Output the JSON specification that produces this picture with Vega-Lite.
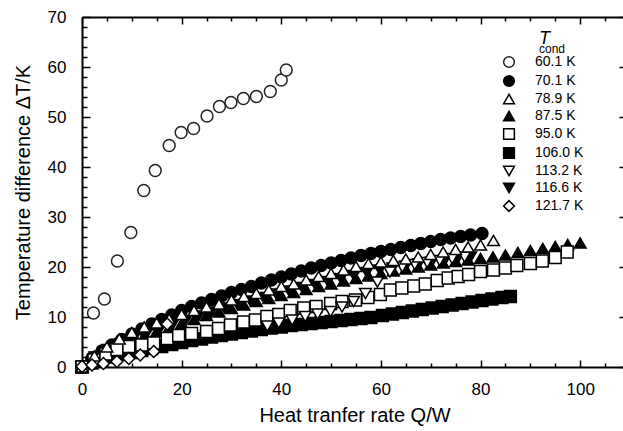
{
  "$schema": "https://vega.github.io/schema/vega-lite/v6.json",
  "width": 545,
  "height": 350,
  "autosize": {"type": "none"},
  "padding": {"left": 82, "top": 17, "right": 0, "bottom": 64},
  "background": "white",
  "config": {"view": {"stroke": null}, "font": "Liberation Sans"},
  "title": {"text": "T", "subtitle": "\u00a0\u00a0cond", "anchor": "start", "frame": "group", "orient": "top", "dx": 457, "dy": 51, "fontSize": 18, "fontStyle": "italic", "fontWeight": "normal", "font": "Liberation Sans", "color": "black", "subtitleFont": "Liberation Sans", "subtitleFontSize": 12, "subtitleColor": "black", "subtitlePadding": -4},
  "data": {"values": [
    {"s":"70.1 K","Q":0,"T":0},{"s":"70.1 K","Q":2,"T":1.8},{"s":"70.1 K","Q":4,"T":3.2},{"s":"70.1 K","Q":6,"T":4.4},{"s":"70.1 K","Q":8,"T":5.5},{"s":"70.1 K","Q":10,"T":6.6},{"s":"70.1 K","Q":12,"T":7.6},{"s":"70.1 K","Q":14,"T":8.6},{"s":"70.1 K","Q":16,"T":9.5},{"s":"70.1 K","Q":18,"T":10.4},{"s":"70.1 K","Q":20,"T":11.3},{"s":"70.1 K","Q":22,"T":12.1},{"s":"70.1 K","Q":24,"T":12.8},{"s":"70.1 K","Q":26,"T":13.5},{"s":"70.1 K","Q":28,"T":14.2},{"s":"70.1 K","Q":30,"T":14.9},{"s":"70.1 K","Q":32,"T":15.5},{"s":"70.1 K","Q":34,"T":16.1},{"s":"70.1 K","Q":36,"T":16.8},{"s":"70.1 K","Q":38,"T":17.4},{"s":"70.1 K","Q":40,"T":18.0},{"s":"70.1 K","Q":42,"T":18.6},{"s":"70.1 K","Q":44,"T":19.2},{"s":"70.1 K","Q":46,"T":19.8},{"s":"70.1 K","Q":48,"T":20.3},{"s":"70.1 K","Q":50,"T":20.8},{"s":"70.1 K","Q":52,"T":21.3},{"s":"70.1 K","Q":54,"T":21.8},{"s":"70.1 K","Q":56,"T":22.3},{"s":"70.1 K","Q":58,"T":22.7},{"s":"70.1 K","Q":60,"T":23.1},{"s":"70.1 K","Q":62,"T":23.5},{"s":"70.1 K","Q":64,"T":23.9},{"s":"70.1 K","Q":66,"T":24.3},{"s":"70.1 K","Q":68,"T":24.7},{"s":"70.1 K","Q":70,"T":25.1},{"s":"70.1 K","Q":72,"T":25.5},{"s":"70.1 K","Q":74,"T":25.8},{"s":"70.1 K","Q":76,"T":26.1},{"s":"70.1 K","Q":78,"T":26.4},{"s":"70.1 K","Q":80.3,"T":26.7},
    {"s":"87.5 K","Q":0,"T":0},{"s":"87.5 K","Q":2.5,"T":1.8},{"s":"87.5 K","Q":5,"T":3.2},{"s":"87.5 K","Q":7.5,"T":4.3},{"s":"87.5 K","Q":10,"T":5.3},{"s":"87.5 K","Q":12.5,"T":6.2},{"s":"87.5 K","Q":15,"T":7.1},{"s":"87.5 K","Q":17.5,"T":7.9},{"s":"87.5 K","Q":20,"T":8.7},{"s":"87.5 K","Q":22.5,"T":9.5},{"s":"87.5 K","Q":25,"T":10.3},{"s":"87.5 K","Q":27.5,"T":11.0},{"s":"87.5 K","Q":30,"T":11.7},{"s":"87.5 K","Q":32.5,"T":12.4},{"s":"87.5 K","Q":35,"T":13.1},{"s":"87.5 K","Q":37.5,"T":13.7},{"s":"87.5 K","Q":40,"T":14.3},{"s":"87.5 K","Q":42.5,"T":14.9},{"s":"87.5 K","Q":45,"T":15.5},{"s":"87.5 K","Q":47.5,"T":16.1},{"s":"87.5 K","Q":50,"T":16.6},{"s":"87.5 K","Q":52.5,"T":17.2},{"s":"87.5 K","Q":55,"T":17.7},{"s":"87.5 K","Q":57.5,"T":18.2},{"s":"87.5 K","Q":60,"T":18.7},{"s":"87.5 K","Q":62.5,"T":19.2},{"s":"87.5 K","Q":65,"T":19.6},{"s":"87.5 K","Q":67.5,"T":20.0},{"s":"87.5 K","Q":70,"T":20.4},{"s":"87.5 K","Q":72.5,"T":20.8},{"s":"87.5 K","Q":75,"T":21.1},{"s":"87.5 K","Q":77.5,"T":21.4},{"s":"87.5 K","Q":80,"T":21.7},{"s":"87.5 K","Q":82.5,"T":22.0},{"s":"87.5 K","Q":85,"T":22.4},{"s":"87.5 K","Q":87.5,"T":22.9},{"s":"87.5 K","Q":90,"T":23.3},{"s":"87.5 K","Q":92.5,"T":23.7},{"s":"87.5 K","Q":95,"T":24.1},{"s":"87.5 K","Q":97.5,"T":24.5},{"s":"87.5 K","Q":100,"T":24.8},
    {"s":"116.6 K","Q":0,"T":0},{"s":"116.6 K","Q":2.6,"T":2.0},{"s":"116.6 K","Q":5.2,"T":3.5},{"s":"116.6 K","Q":7.8,"T":4.7},{"s":"116.6 K","Q":10.4,"T":5.7},{"s":"116.6 K","Q":13,"T":6.7},{"s":"116.6 K","Q":15.6,"T":7.6},{"s":"116.6 K","Q":18.2,"T":8.5},{"s":"116.6 K","Q":20.8,"T":9.3},{"s":"116.6 K","Q":23.4,"T":10.2},{"s":"116.6 K","Q":26,"T":11.0},{"s":"116.6 K","Q":28.6,"T":11.8},{"s":"116.6 K","Q":31.2,"T":12.5},{"s":"116.6 K","Q":33.8,"T":13.2},{"s":"116.6 K","Q":36.4,"T":13.9},{"s":"116.6 K","Q":39,"T":14.6},{"s":"116.6 K","Q":41.6,"T":15.2},{"s":"116.6 K","Q":44.2,"T":15.9},{"s":"116.6 K","Q":46.8,"T":16.5},{"s":"116.6 K","Q":49.4,"T":17.1},{"s":"116.6 K","Q":52,"T":17.7},{"s":"116.6 K","Q":54.6,"T":18.3},{"s":"116.6 K","Q":57.2,"T":18.9},{"s":"116.6 K","Q":59.8,"T":19.4},{"s":"116.6 K","Q":62.4,"T":19.8},{"s":"116.6 K","Q":65,"T":20.2},{"s":"116.6 K","Q":67.6,"T":20.6},{"s":"116.6 K","Q":70.2,"T":21.0},{"s":"116.6 K","Q":72.8,"T":21.3},{"s":"116.6 K","Q":75.4,"T":21.7},{"s":"116.6 K","Q":78,"T":22.0},
    {"s":"113.2 K","Q":0,"T":0},{"s":"113.2 K","Q":2.5,"T":1.0},{"s":"113.2 K","Q":5,"T":1.9},{"s":"113.2 K","Q":7.5,"T":2.7},{"s":"113.2 K","Q":10,"T":3.3},{"s":"113.2 K","Q":12.5,"T":3.9},{"s":"113.2 K","Q":15,"T":4.4},{"s":"113.2 K","Q":17.5,"T":4.9},{"s":"113.2 K","Q":20,"T":5.3},{"s":"113.2 K","Q":22.5,"T":5.8},{"s":"113.2 K","Q":25,"T":6.2},{"s":"113.2 K","Q":27.5,"T":6.6},{"s":"113.2 K","Q":30,"T":7.0},{"s":"113.2 K","Q":32.5,"T":7.4},{"s":"113.2 K","Q":35,"T":7.8},
    {"s":"106.0 K","Q":0,"T":0},{"s":"106.0 K","Q":2,"T":0.8},{"s":"106.0 K","Q":4,"T":1.4},{"s":"106.0 K","Q":6,"T":2.0},{"s":"106.0 K","Q":8,"T":2.5},{"s":"106.0 K","Q":10,"T":2.9},{"s":"106.0 K","Q":12,"T":3.3},{"s":"106.0 K","Q":14,"T":3.7},{"s":"106.0 K","Q":16,"T":4.1},{"s":"106.0 K","Q":18,"T":4.5},{"s":"106.0 K","Q":20,"T":4.9},{"s":"106.0 K","Q":22,"T":5.3},{"s":"106.0 K","Q":24,"T":5.6},{"s":"106.0 K","Q":26,"T":6.0},{"s":"106.0 K","Q":28,"T":6.3},{"s":"106.0 K","Q":30,"T":6.6},{"s":"106.0 K","Q":32,"T":6.9},{"s":"106.0 K","Q":34,"T":7.2},{"s":"106.0 K","Q":36,"T":7.5},{"s":"106.0 K","Q":38,"T":7.8},{"s":"106.0 K","Q":40,"T":8.0},{"s":"106.0 K","Q":42,"T":8.3},{"s":"106.0 K","Q":44,"T":8.5},{"s":"106.0 K","Q":46,"T":8.7},{"s":"106.0 K","Q":48,"T":8.9},{"s":"106.0 K","Q":50,"T":9.1},{"s":"106.0 K","Q":52,"T":9.3},{"s":"106.0 K","Q":54,"T":9.5},{"s":"106.0 K","Q":56,"T":9.7},{"s":"106.0 K","Q":58,"T":9.9},{"s":"106.0 K","Q":60.3,"T":10.3},{"s":"106.0 K","Q":62.3,"T":10.6},{"s":"106.0 K","Q":64.3,"T":10.9},{"s":"106.0 K","Q":66.3,"T":11.2},{"s":"106.0 K","Q":68.3,"T":11.5},{"s":"106.0 K","Q":70.3,"T":11.8},{"s":"106.0 K","Q":72.3,"T":12.1},{"s":"106.0 K","Q":74.3,"T":12.4},{"s":"106.0 K","Q":76.3,"T":12.7},{"s":"106.0 K","Q":78.3,"T":13.0},{"s":"106.0 K","Q":80.3,"T":13.3},{"s":"106.0 K","Q":82.3,"T":13.6},{"s":"106.0 K","Q":84.3,"T":13.9},{"s":"106.0 K","Q":86,"T":14.1},
    {"s":"95.0 K","Q":0,"T":0},{"s":"95.0 K","Q":2.4,"T":1.4},{"s":"95.0 K","Q":4.8,"T":2.6},{"s":"95.0 K","Q":7,"T":3.5},{"s":"95.0 K","Q":9.4,"T":4.1},{"s":"95.0 K","Q":12,"T":4.4},{"s":"95.0 K","Q":14.4,"T":4.8},{"s":"95.0 K","Q":17.1,"T":5.7},{"s":"95.0 K","Q":19.4,"T":6.3},{"s":"95.0 K","Q":22,"T":6.7},{"s":"95.0 K","Q":25,"T":7.1},{"s":"95.0 K","Q":27.4,"T":7.7},{"s":"95.0 K","Q":29.8,"T":8.4},{"s":"95.0 K","Q":32.4,"T":9.0},{"s":"95.0 K","Q":34.8,"T":9.4},{"s":"95.0 K","Q":37.1,"T":10.1},{"s":"95.0 K","Q":39.5,"T":10.5},{"s":"95.0 K","Q":41.8,"T":11.3},{"s":"95.0 K","Q":44.5,"T":11.8},{"s":"95.0 K","Q":47,"T":12.1},{"s":"95.0 K","Q":49.9,"T":12.7},{"s":"95.0 K","Q":52.2,"T":13.1},{"s":"95.0 K","Q":54.9,"T":13.4},{"s":"95.0 K","Q":57.4,"T":13.9},{"s":"95.0 K","Q":59.9,"T":14.5},{"s":"95.0 K","Q":61.9,"T":15.4},{"s":"95.0 K","Q":64.2,"T":15.8},{"s":"95.0 K","Q":66.6,"T":16.2},{"s":"95.0 K","Q":68.9,"T":16.6},{"s":"95.0 K","Q":71.3,"T":17.3},{"s":"95.0 K","Q":73.5,"T":17.8},{"s":"95.0 K","Q":75.5,"T":18.1},{"s":"95.0 K","Q":77.6,"T":18.5},{"s":"95.0 K","Q":80,"T":19.1},{"s":"95.0 K","Q":82.6,"T":19.4},{"s":"95.0 K","Q":85,"T":19.8},{"s":"95.0 K","Q":87.3,"T":20.3},{"s":"95.0 K","Q":90,"T":20.7},{"s":"95.0 K","Q":92.4,"T":21.2},{"s":"95.0 K","Q":95,"T":21.9},{"s":"95.0 K","Q":97.4,"T":23.0},
    {"s":"113.2 K","Q":37.2,"T":8.2},{"s":"113.2 K","Q":39.5,"T":8.8},{"s":"113.2 K","Q":42.2,"T":9.4},{"s":"113.2 K","Q":44.8,"T":10.1},{"s":"113.2 K","Q":47.3,"T":10.6},{"s":"113.2 K","Q":49.9,"T":11.1},{"s":"113.2 K","Q":52.2,"T":12.0},{"s":"113.2 K","Q":54.5,"T":13.1},{"s":"113.2 K","Q":56.9,"T":14.7},{"s":"113.2 K","Q":59.3,"T":17.0},{"s":"113.2 K","Q":61.8,"T":19.0},{"s":"113.2 K","Q":64.3,"T":20.0},{"s":"113.2 K","Q":66.8,"T":20.5},{"s":"113.2 K","Q":69.3,"T":20.9},{"s":"113.2 K","Q":71.8,"T":21.3},{"s":"113.2 K","Q":74.3,"T":21.7},{"s":"113.2 K","Q":76.8,"T":22.0},
    {"s":"78.9 K","Q":0,"T":0},{"s":"78.9 K","Q":2.5,"T":2.2},{"s":"78.9 K","Q":5,"T":4.0},{"s":"78.9 K","Q":7.5,"T":5.6},{"s":"78.9 K","Q":10,"T":6.9},{"s":"78.9 K","Q":12.5,"T":8.0},{"s":"78.9 K","Q":15,"T":8.8},{"s":"78.9 K","Q":17.5,"T":9.6},{"s":"78.9 K","Q":20,"T":10.5},{"s":"78.9 K","Q":22.5,"T":11.3},{"s":"78.9 K","Q":25,"T":12.0},{"s":"78.9 K","Q":27.5,"T":12.6},{"s":"78.9 K","Q":30,"T":13.4},{"s":"78.9 K","Q":32.5,"T":14.1},{"s":"78.9 K","Q":35,"T":14.7},{"s":"78.9 K","Q":37.5,"T":15.4},{"s":"78.9 K","Q":40,"T":16.1},{"s":"78.9 K","Q":42.5,"T":16.6},{"s":"78.9 K","Q":45,"T":17.4},{"s":"78.9 K","Q":47.5,"T":18.1},{"s":"78.9 K","Q":50,"T":18.7},{"s":"78.9 K","Q":52.5,"T":19.4},{"s":"78.9 K","Q":55,"T":20.1},{"s":"78.9 K","Q":57.5,"T":20.7},{"s":"78.9 K","Q":60,"T":21.0},{"s":"78.9 K","Q":62.5,"T":21.3},{"s":"78.9 K","Q":65,"T":21.6},{"s":"78.9 K","Q":67.5,"T":22.0},{"s":"78.9 K","Q":70,"T":22.5},{"s":"78.9 K","Q":72.5,"T":23.0},{"s":"78.9 K","Q":75,"T":23.5},{"s":"78.9 K","Q":77.5,"T":24.0},{"s":"78.9 K","Q":80,"T":24.4},{"s":"78.9 K","Q":82.6,"T":25.3},
    {"s":"121.7 K","Q":0,"T":0.1},{"s":"121.7 K","Q":2,"T":0.4},{"s":"121.7 K","Q":4.3,"T":0.7},{"s":"121.7 K","Q":7,"T":1.1},{"s":"121.7 K","Q":9.4,"T":1.7},{"s":"121.7 K","Q":11.7,"T":2.4},{"s":"121.7 K","Q":14.4,"T":3.1},{"s":"121.7 K","Q":17.1,"T":8.6},
    {"s":"60.1 K","Q":2.3,"T":10.8},{"s":"60.1 K","Q":4.5,"T":13.6},{"s":"60.1 K","Q":7.1,"T":21.2},{"s":"60.1 K","Q":9.8,"T":26.9},{"s":"60.1 K","Q":12.4,"T":35.3},{"s":"60.1 K","Q":14.7,"T":39.3},{"s":"60.1 K","Q":17.5,"T":44.3},{"s":"60.1 K","Q":19.9,"T":46.9},{"s":"60.1 K","Q":22.4,"T":47.7},{"s":"60.1 K","Q":25.1,"T":50.2},{"s":"60.1 K","Q":27.6,"T":52.1},{"s":"60.1 K","Q":29.9,"T":52.9},{"s":"60.1 K","Q":32.4,"T":53.7},{"s":"60.1 K","Q":35.0,"T":54.1},{"s":"60.1 K","Q":37.8,"T":55.1},{"s":"60.1 K","Q":40.0,"T":57.4},{"s":"60.1 K","Q":41.0,"T":59.4}
  ]},
  "layer": [
    {
      "mark": {"type": "point", "filled": false, "strokeWidth": 1.5, "opacity": 1, "size": 140},
      "encoding": {
        "x": {"field": "Q", "type": "quantitative", "scale": {"domain": [0, 109.4], "nice": false, "zero": false},
          "axis": {"orient": "bottom", "title": "Heat tranfer rate Q/W", "titleFontSize": 20, "titleFont": "Liberation Sans", "titleFontWeight": "normal", "titleColor": "black", "titlePadding": 5,
            "values": [0,5,10,15,20,25,30,35,40,45,50,55,60,65,70,75,80,85,90,95,100,105],
            "labelExpr": "datum.value % 20 === 0 ? datum.label : ''", "labelFontSize": 17, "labelFont": "Liberation Sans", "labelColor": "black", "labelPadding": 21, "labelOverlap": false, "labelFlush": false,
            "grid": false, "domainColor": "black", "domainWidth": 2, "tickColor": "black", "tickWidth": 1.5,
            "tickSize": {"condition": {"test": "datum.value % 20 === 0", "value": -7}, "value": -4}}},
        "y": {"field": "T", "type": "quantitative", "scale": {"domain": [0, 70], "nice": false, "zero": false},
          "axis": {"orient": "left", "title": "Temperature difference \u0394T/K", "titleFontSize": 20, "titleFont": "Liberation Sans", "titleFontWeight": "normal", "titleColor": "black", "titlePadding": 14,
            "values": [0,2,4,6,8,10,12,14,16,18,20,22,24,26,28,30,32,34,36,38,40,42,44,46,48,50,52,54,56,58,60,62,64,66,68,70],
            "labelExpr": "datum.value % 10 === 0 ? datum.label : ''", "labelFontSize": 17, "labelFont": "Liberation Sans", "labelColor": "black", "labelPadding": 24, "labelOverlap": false, "labelFlush": false,
            "grid": false, "domainColor": "black", "domainWidth": 2, "tickColor": "black", "tickWidth": 1.5,
            "tickSize": {"condition": {"test": "datum.value % 10 === 0", "value": -8}, "value": -5}}},
        "shape": {"field": "s", "type": "nominal",
          "scale": {"domain": ["60.1 K","70.1 K","78.9 K","87.5 K","95.0 K","106.0 K","113.2 K","116.6 K","121.7 K"],
                    "range": ["circle","circle","triangle-up","triangle-up","square","square","triangle-down","triangle-down","diamond"]},
          "legend": {"title": null, "orient": "none", "legendX": 420, "legendY": 38, "labelFontSize": 14, "labelFont": "Liberation Sans", "labelColor": "black", "symbolSize": 115, "symbolStrokeWidth": 1.5, "rowPadding": 1, "labelOffset": 19}},
        "fill": {"field": "s", "type": "nominal",
          "scale": {"domain": ["60.1 K","70.1 K","78.9 K","87.5 K","95.0 K","106.0 K","113.2 K","116.6 K","121.7 K"],
                    "range": ["white","black","white","black","white","black","white","black","white"]},
          "legend": {"title": null, "orient": "none", "legendX": 420, "legendY": 38, "labelFontSize": 14, "labelFont": "Liberation Sans", "labelColor": "black", "symbolSize": 115, "symbolStrokeWidth": 1.5, "rowPadding": 1, "labelOffset": 19}},
        "stroke": {"field": "s", "type": "nominal",
          "scale": {"domain": ["60.1 K","70.1 K","78.9 K","87.5 K","95.0 K","106.0 K","113.2 K","116.6 K","121.7 K"],
                    "range": ["#222222","black","black","black","black","black","black","black","black"]},
          "legend": {"title": null, "orient": "none", "legendX": 420, "legendY": 38, "labelFontSize": 14, "labelFont": "Liberation Sans", "labelColor": "black", "symbolSize": 115, "symbolStrokeWidth": 1.5, "rowPadding": 1, "labelOffset": 19}}
      }
    },
    {
      "mark": {"type": "point", "opacity": 0},
      "encoding": {
        "x": {"field": "Q", "type": "quantitative", "scale": {"domain": [0, 109.4], "nice": false, "zero": false},
          "axis": {"orient": "top", "title": null, "labels": false, "values": [0,5,10,15,20,25,30,35,40,45,50,55,60,65,70,75,80,85,90,95,100,105],
            "grid": false, "domainColor": "black", "domainWidth": 2, "tickColor": "black", "tickWidth": 1.5,
            "tickSize": {"condition": {"test": "datum.value % 20 === 0", "value": -7}, "value": -4}}},
        "y": {"field": "T", "type": "quantitative", "scale": {"domain": [0, 70], "nice": false, "zero": false},
          "axis": {"orient": "right", "title": null, "labels": false, "values": [0,10,20,30,40,50,60,70],
            "grid": false, "domainColor": "black", "domainWidth": 2, "tickColor": "black", "tickWidth": 1.5, "tickSize": -8}}
      }
    }
  ],
  "resolve": {"axis": {"x": "independent", "y": "independent"}}
}
